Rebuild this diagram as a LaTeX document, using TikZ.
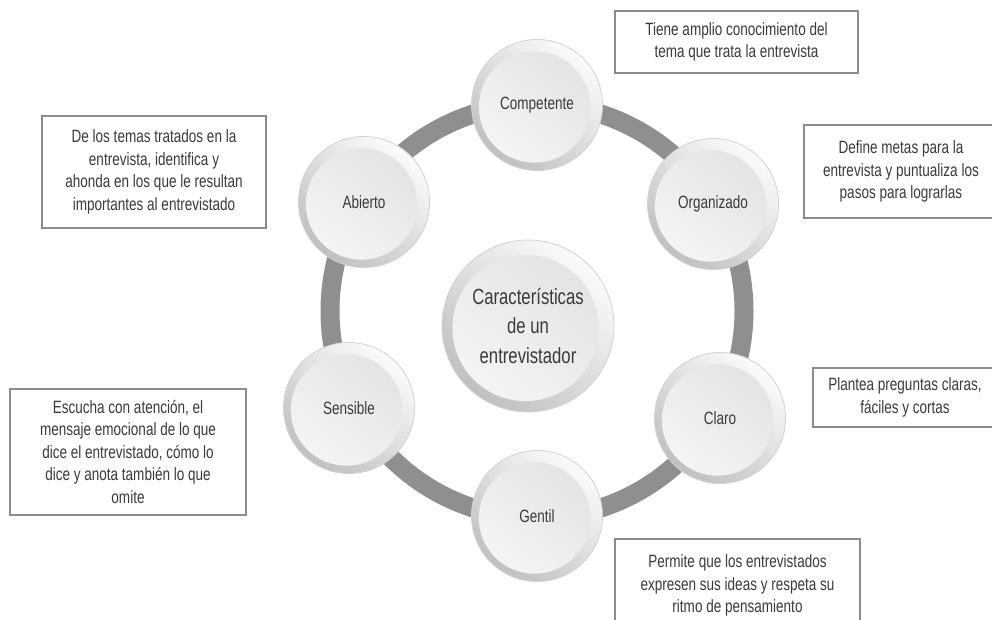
\documentclass[tikz,border=0pt]{standalone}
\usepackage{fontspec}
\setmainfont{Liberation Sans}[FakeStretch=0.76]
\usetikzlibrary{calc}
\definecolor{ringc}{HTML}{8F8F91}
\definecolor{boxc}{HTML}{8C8C8C}
\definecolor{txt}{HTML}{3A3A3A}
\definecolor{ballline}{HTML}{D2D2D2}
\definecolor{ballhi}{HTML}{FBFBFB}
\definecolor{balllo}{HTML}{C0C0C0}
\definecolor{innerhi}{HTML}{E2E2E2}
\definecolor{innerlo}{HTML}{F5F5F5}
\tikzset{
  ball/.style={circle, minimum size=#1, inner sep=0pt, draw=ballline, line width=0.8pt,
    top color=ballhi, bottom color=balllo, shading angle=-40,
    path picture={\shade[top color=innerhi, bottom color=innerlo, shading angle=-40]
      ([xshift=-2.5pt,yshift=-2pt]path picture bounding box.center) circle ({0.425*#1});},
    text=txt, font=\fontsize{17.8}{21}\selectfont, align=center},
  note/.style={draw=boxc, line width=1.5pt, fill=white, text=txt, align=center,
    font=\fontsize{17.8}{22.5}\selectfont, inner sep=0pt},
  ringline/.style={draw=ringc, line width=19pt}
}
\begin{document}
\begin{tikzpicture}[x=1pt,y=1pt]
\useasboundingbox (0,0) rectangle (992,-620);
\fill[white] (0,0) rectangle (992,-620);
\coordinate (ringmid) at (537,-311);
\draw[ringline] (ringmid) circle (207);
\node[ball=131pt] (comp) at ($(ringmid)+(90:206)$) {Competente};
\node[ball=131pt] (org) at (713,-204) {Organizado};
\node[ball=131pt] (claro) at (720,-418) {Claro};
\node[ball=131pt] (gentil) at (537,-516) {Gentil};
\node[ball=131pt] (sens) at (349,-408) {Sensible};
\node[ball=131pt] (abierto) at (364,-202) {Abierto};
\node[ball=172pt, font=\fontsize{22}{29.5}\selectfont] (centro) at (528,-326) {Características\\de un\\entrevistador};
\node[note, minimum width=243pt, minimum height=62pt] (tiene) at (736.5,-42) {Tiene amplio conocimiento del\\tema que trata la entrevista};
\node[note, minimum width=194pt, minimum height=93pt] (define) at (901,-171.5) {Define metas para la\\entrevista y puntualiza los\\pasos para lograrlas};
\node[note, minimum width=184pt, minimum height=59pt] (plantea) at (905,-397.5) {Plantea preguntas claras,\\fáciles y cortas};
\node[note, minimum width=245pt, minimum height=93pt] (permite) at (737.5,-585.5) {Permite que los entrevistados\\expresen sus ideas y respeta su\\ritmo de pensamiento};
\node[note, minimum width=236pt, minimum height=126pt] (escucha) at (128,-452) {Escucha con atención, el\\mensaje emocional de lo que\\dice el entrevistado, cómo lo\\dice y anota también lo que\\omite};
\node[note, minimum width=224pt, minimum height=112pt] (delos) at (154,-172) {De los temas tratados en la\\entrevista, identifica y\\ahonda en los que le resultan\\importantes al entrevistado};
\end{tikzpicture}
\end{document}
